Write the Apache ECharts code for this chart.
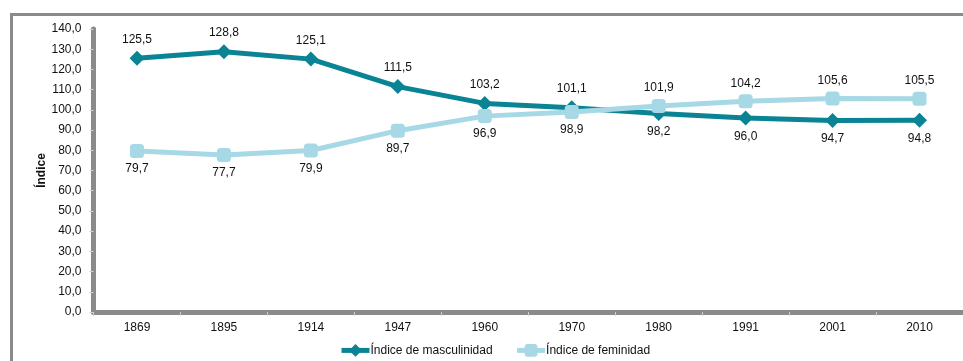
<!DOCTYPE html>
<html>
<head>
<meta charset="utf-8">
<script src="https://cdn.jsdelivr.net/npm/echarts@6/dist/echarts.min.js"></script>
<style>
  html, body { margin: 0; padding: 0; background: #fff; overflow: hidden; }
  #chart { width: 963px; height: 361px; }
</style>
</head>
<body>
<div id="chart"></div>
<script>
// Census years
const years = ['1869', '1895', '1914', '1947', '1960', '1970', '1980', '1991', '2001', '2010'];
// Men per 100 women
const masculinidad = [125.5, 128.8, 125.1, 111.5, 103.2, 101.1, 98.2, 96.0, 94.7, 94.8];
// Women per 100 men
const feminidad = [79.7, 77.7, 79.9, 89.7, 96.9, 98.9, 101.9, 104.2, 105.6, 105.5];
// Value axis range
const yMin = 0, yMax = 140, yStep = 10;

const fmt = v => Number(v).toFixed(1).replace('.', ',');
const FONT = '"Liberation Sans", Arial, sans-serif';
const DARK = '#0a8494';
const LIGHT = '#a6d8e6';

// label goes above when the point is the higher of the pair, below otherwise
function labelled(values, other) {
  return values.map((v, i) => ({
    value: v,
    label: { position: v >= other[i] ? 'top' : 'bottom' }
  }));
}

const chart = echarts.init(document.getElementById('chart'), null, { renderer: 'canvas' });
chart.setOption({
  animation: false,
  textStyle: { fontFamily: FONT },
  graphic: [{
    type: 'rect',
    shape: { x: 11.5, y: 14.5, width: 1000, height: 400 },
    style: { fill: 'none', stroke: '#8a8a8a', lineWidth: 3 },
    silent: true
  }],
  grid: { left: 93.5, top: 29, width: 872, height: 283 },
  xAxis: {
    type: 'category',
    data: years,
    boundaryGap: true,
    axisLine: { show: true, lineStyle: { color: '#8a8a8a', width: 5 } },
    axisTick: { show: true, length: 4, lineStyle: { color: '#d0d0d0', width: 1 } },
    axisLabel: { color: '#111', fontSize: 12, fontFamily: FONT, margin: 10 },
    splitLine: { show: false }
  },
  yAxis: {
    type: 'value',
    min: yMin, max: yMax, interval: yStep,
    name: 'Índice',
    nameLocation: 'middle',
    nameGap: 46,
    nameMoveOverlap: false,
    nameRotate: 90,
    nameTextStyle: { color: '#111', fontSize: 12, fontWeight: 'bold', fontFamily: FONT },
    axisLine: { show: true, lineStyle: { color: '#8a8a8a', width: 5 } },
    axisTick: { show: true, length: 4, lineStyle: { color: '#d0d0d0', width: 1 } },
    axisLabel: { color: '#111', fontSize: 12, fontFamily: FONT, margin: 12, formatter: fmt },
    splitLine: { show: false }
  },
  legend: {
    left: 334, top: 339,
    itemWidth: 28, itemHeight: 16, itemGap: 22,
    lineStyle: { width: 5 },
    textStyle: { color: '#111', fontSize: 12, fontFamily: FONT, padding: [0, 0, 0, -4] },
    data: ['Índice de masculinidad', 'Índice de feminidad']
  },
  series: [
    {
      name: 'Índice de masculinidad',
      type: 'line',
      data: labelled(masculinidad, feminidad),
      z: 3,
      color: DARK,
      lineStyle: { color: DARK, width: 5 },
      symbol: 'diamond',
      symbolSize: 15,
      itemStyle: { color: DARK },
      label: { show: true, distance: 5, color: '#111', fontSize: 12, fontFamily: FONT, formatter: p => fmt(p.value) }
    },
    {
      name: 'Índice de feminidad',
      type: 'line',
      data: labelled(feminidad, masculinidad),
      z: 4,
      color: LIGHT,
      lineStyle: { color: LIGHT, width: 5 },
      symbol: 'roundRect',
      symbolSize: 14,
      itemStyle: { color: LIGHT },
      label: { show: true, distance: 5, color: '#111', fontSize: 12, fontFamily: FONT, formatter: p => fmt(p.value) }
    }
  ]
});
</script>
</body>
</html>
